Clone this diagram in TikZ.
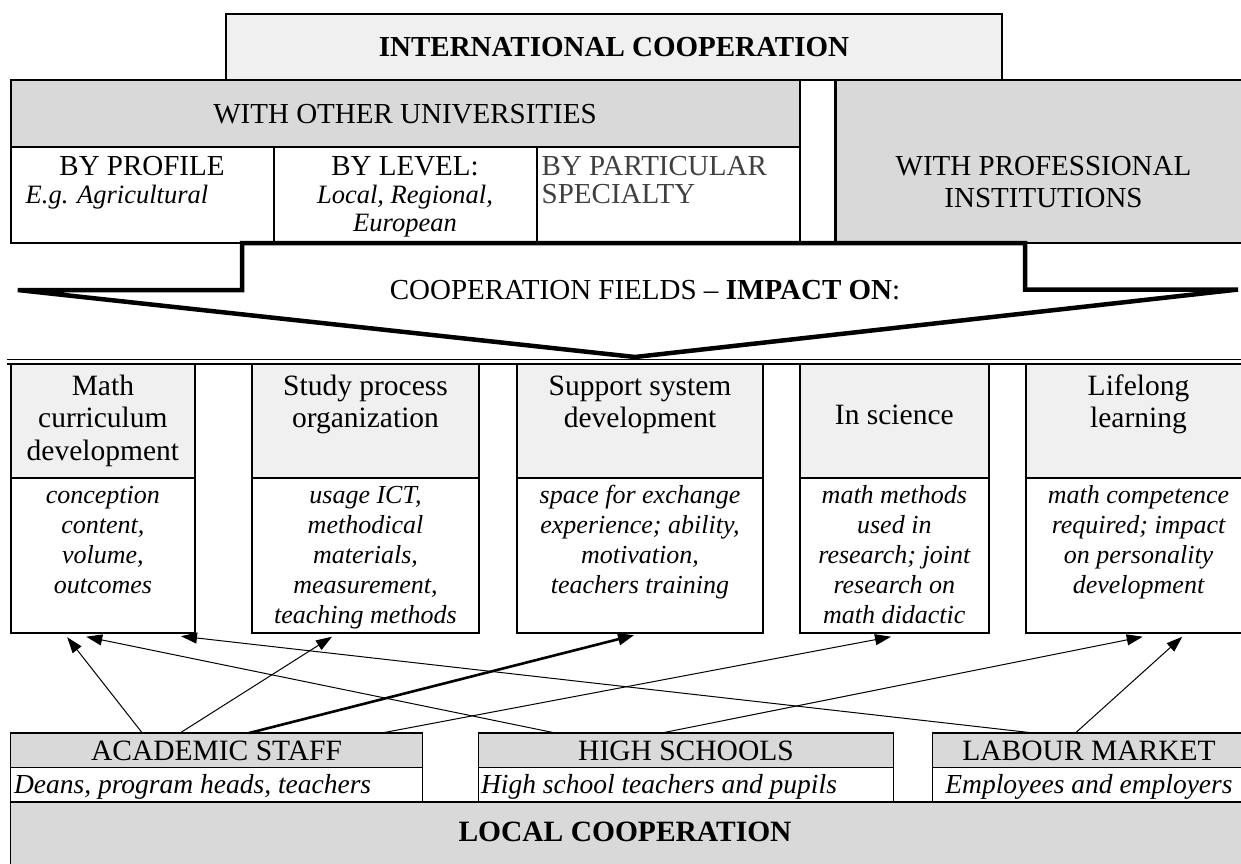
\documentclass[tikz,border=0pt]{standalone}
\usepackage{fontspec}
\setmainfont{Liberation Serif}
\usetikzlibrary{arrows.meta,fit}
\definecolor{hdrlight}{HTML}{F0F0F0}
\definecolor{hdrdark}{HTML}{D9D9D9}
\definecolor{grytxt}{HTML}{404040}
\newcommand\szUp{\fontsize{29}{28}\selectfont}
\newcommand\szUpIt{\fontsize{26.5}{28}\selectfont\itshape}
\newcommand\szHd{\fontsize{29.5}{32.5}\selectfont}
\newcommand\szBd{\fontsize{26}{30}\selectfont\itshape}
\newcommand\szLo{\fontsize{29.5}{28}\selectfont}
\newcommand\szLoIt{\fontsize{27.5}{28}\selectfont\itshape}
\newcommand\tA{\rule{0pt}{20pt}}
\newcommand\tB{\rule{0pt}{19pt}}
\newcommand\tC{\rule{0pt}{21pt}}
\begin{document}
\begin{tikzpicture}[x=1pt,y=-1pt,
  ubox/.style={draw, line width=2.2pt, inner sep=0pt, outer sep=0pt, rectangle},
  fldbox/.style={draw, line width=2pt, inner sep=0pt, outer sep=0pt, rectangle},
  lbox/.style={draw, line width=1.2pt, inner sep=0pt, outer sep=0pt, rectangle},
  txt/.style={inner sep=0pt, outer sep=0pt},
  conn/.style={line width=1pt, -{Triangle[length=16pt,width=11pt]}},
  thickconn/.style={line width=2.6pt, -{Triangle[length=16pt,width=12pt]}},
]
\useasboundingbox (0,0) rectangle (1241,863);

% ---------- international ----------
\node (intl) [ubox, fill=hdrlight, fit={(226,14)(1002,80)}] {};
\node (intltxt) [txt, anchor=base, font=\szUp\bfseries] at (614,56) {INTERNATIONAL COOPERATION};

\node (uni) [ubox, fill=hdrdark, fit={(10.7,80)(800,147)}] {};
\node (profile) [ubox, fit={(10.7,147)(273.6,243)}] {};
\node (level) [ubox, fit={(273.6,147)(536.6,243)}] {};
\node (spec) [ubox, fit={(536.6,147)(800,243)}] {};
\node (prof) [ubox, fill=hdrdark, fit={(835.5,80)(1252,243)}] {};

% ---------- big arrow ----------
\draw[line width=4.5pt, fill=white] (242,243) -- (1025,243) -- (1025,289.5) -- (1238,289.5)
  -- (635,357) -- (17.8,290) -- (242,290) -- cycle;
\node (fields) [txt, anchor=base, font=\szUp] at (645,299.5) {COOPERATION FIELDS -- \textbf{IMPACT ON}:};

% texts of upper row
\node (unitxt) [txt, anchor=base, font=\szUp] at (405,123) {WITH OTHER UNIVERSITIES};
\node (proftxt) [txt, anchor=base, font=\szUp] at (142,175) {BY PROFILE};
\node (profex) [txt, anchor=base west, font=\szUpIt] at (25.7,203) {E.g. Agricultural};
\node (leveltxt) [txt, anchor=north, align=center, font=\szUp] at (405,155)
  {\tA BY LEVEL:\\ {\szUpIt Local, Regional,}\\ {\szUpIt European}};
\node (spectxt) [txt, anchor=north west, align=left, font=\szUp, text=grytxt] at (541.7,155)
  {\tA BY PARTICULAR\\SPECIALTY};
\node (proftxt2) [txt, anchor=north, align=center, font=\fontsize{29}{32}\selectfont] at (1043.5,155)
  {\tA WITH PROFESSIONAL\\INSTITUTIONS};

% ---------- double line ----------
\draw[line width=1.5pt] (7,359.5) -- (1252,359.5);
\draw[line width=1.5pt] (7,364) -- (1252,364);

% ---------- field boxes ----------
\node (mathh) [fldbox, fill=hdrlight, fit={(10.7,364)(195,478)}] {};
\node (mathb) [fldbox, fill=white, fit={(10.7,478)(195,632.7)}] {};
\node (studyh) [fldbox, fill=hdrlight, fit={(251.9,364)(479.2,478)}] {};
\node (studyb) [fldbox, fill=white, fit={(251.9,478)(479.2,632.7)}] {};
\node (supph) [fldbox, fill=hdrlight, fit={(516.8,364)(763.1,478)}] {};
\node (suppb) [fldbox, fill=white, fit={(516.8,478)(763.1,632.7)}] {};
\node (scih) [fldbox, fill=hdrlight, fit={(800,364)(988.5,478)}] {};
\node (scib) [fldbox, fill=white, fit={(800,478)(988.5,632.7)}] {};
\node (lifeh) [fldbox, fill=hdrlight, fit={(1026,364)(1251,478)}] {};
\node (lifeb) [fldbox, fill=white, fit={(1026,478)(1251,632.7)}] {};

\node (mathht) [txt, anchor=north, align=center, font=\szHd] at (102.9,374) {\tC Math\\curriculum\\development};
\node (studyht) [txt, anchor=north, align=center, font=\szHd] at (365.5,374) {\tC Study process\\organization};
\node (suppht) [txt, anchor=north, align=center, font=\szHd] at (640,374) {\tC Support system\\development};
\node (sciht) [txt, anchor=base, font=\szHd] at (894.3,424) {In science};
\node (lifeht) [txt, anchor=north, align=center, font=\szHd] at (1138.5,374) {\tC Lifelong\\learning};

\node (mathbt) [txt, anchor=north, align=center, font=\szBd] at (102.9,484) {\tB conception\\content,\\volume,\\outcomes};
\node (studybt) [txt, anchor=north, align=center, font=\szBd] at (365.5,484) {\tB usage ICT,\\methodical\\materials,\\measurement,\\teaching methods};
\node (suppbt) [txt, anchor=north, align=center, font=\szBd] at (640,484) {\tB space for exchange\\experience; ability,\\motivation,\\teachers training};
\node (scibt) [txt, anchor=north, align=center, font=\szBd] at (894.3,484) {\tB math methods\\used in\\research; joint\\research on\\math didactic};
\node (lifebt) [txt, anchor=north, align=center, font=\szBd] at (1138.5,484) {\tB math competence\\required; impact\\on personality\\development};

% ---------- local cooperation ----------
\node (local) [lbox, fill=hdrdark, fit={(10.7,802)(1252,875)}] {};
\node (localtxt) [txt, anchor=base, font=\szLo\bfseries] at (625,841) {LOCAL COOPERATION};

\node (acadh) [lbox, fill=hdrdark, fit={(10.7,733)(422.3,767.3)}] {};
\node (acadb) [lbox, fill=white, fit={(10.7,767.3)(422.3,802)}] {};
\node (highh) [lbox, fill=hdrdark, fit={(478.4,733)(893.6,767.3)}] {};
\node (highb) [lbox, fill=white, fit={(478.4,767.3)(893.6,802)}] {};
\node (labh) [lbox, fill=hdrdark, fit={(932.4,733)(1246,767.3)}] {};
\node (labb) [lbox, fill=white, fit={(932.4,767.3)(1246,802)}] {};

\node (acadt) [txt, anchor=base, font=\szLo] at (216.5,760.5) {ACADEMIC STAFF};
\node (acadst) [txt, anchor=base west, font=\szLoIt] at (14,793) {Deans, program heads, teachers};
\node (hight) [txt, anchor=base, font=\szLo] at (686,760.5) {HIGH SCHOOLS};
\node (highst) [txt, anchor=base west, font=\szLoIt] at (481,793) {High school teachers and pupils};
\node (labt) [txt, anchor=base, font=\szLo] at (1089,760.5) {LABOUR MARKET};
\node (labst) [txt, anchor=base, font=\szLoIt] at (1089,793) {Employees and employers};

% ---------- connectors ----------
\draw[conn] ([xshift=131.6pt]acadh.north west) -- ([xshift=56.5pt,yshift=-4.5pt]mathb.south west);
\draw[conn] ([xshift=169.3pt]acadh.north west) -- ([xshift=80.1pt,yshift=-4pt]studyb.south west);
\draw[thickconn] ([xshift=238.3pt]acadh.north west) -- ([xshift=117.2pt,yshift=-2.5pt]suppb.south west);
\draw[conn] ([xshift=370.9pt]acadh.north west) -- ([xshift=91pt,yshift=-4pt]scib.south west);
\draw[conn] ([xshift=77.1pt]highh.north west) -- ([xshift=75.5pt,yshift=-4pt]mathb.south west);
\draw[conn] ([xshift=183.1pt]highh.north west) -- ([xshift=116.7pt,yshift=-4pt]lifeb.south west);
\draw[conn] ([xshift=101.5pt]labh.north west) -- ([xshift=170.3pt,yshift=-3.5pt]mathb.south west);
\draw[conn] ([xshift=143pt]labh.north west) -- ([xshift=156.3pt,yshift=-4pt]lifeb.south west);
\end{tikzpicture}
\end{document}
